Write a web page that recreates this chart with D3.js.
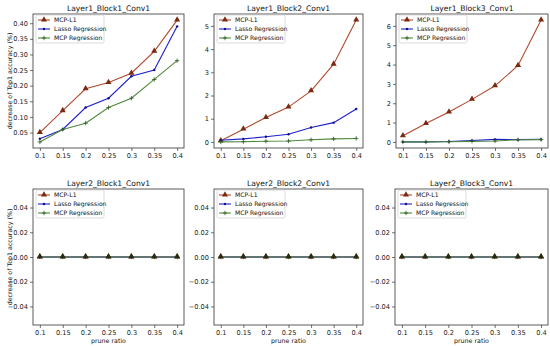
<!DOCTYPE html>
<html>
<head>
<meta charset="utf-8">
<script src="https://cdn.jsdelivr.net/npm/d3@7"></script>
<style>
  body { margin: 0; background: #fff; }
  svg { display: block; }
  text { font-family: "DejaVu Sans", sans-serif; }
</style>
</head>
<body>
<div id="graph-container"></div>
<script>
const pruneRatios = [0.1, 0.15, 0.2, 0.25, 0.3, 0.35, 0.4];
const xTickLabels = ['0.1', '0.15', '0.2', '0.25', '0.3', '0.35', '0.4'];
const seriesNames = ['MCP-L1', 'Lasso Regression', 'MCP Regression'];
const panelTitles = ['Layer1_Block1_Conv1', 'Layer1_Block2_Conv1', 'Layer1_Block3_Conv1',
                     'Layer2_Block1_Conv1', 'Layer2_Block2_Conv1', 'Layer2_Block3_Conv1'];

// values per panel: [MCP-L1, Lasso, MCP Regression]
const l1b1MCPL1 = [0.05, 0.12, 0.19, 0.21, 0.24, 0.31, 0.41];
const l1b1Lasso = [0.03, 0.06, 0.13, 0.16, 0.23, 0.25, 0.39];
const l1b1MCPReg = [0.02, 0.06, 0.08, 0.13, 0.16, 0.22, 0.28];

const l1b2MCPL1 = [0.05, 0.55, 1.05, 1.5, 2.2, 3.35, 5.25];
const l1b2Lasso = [0.07, 0.13, 0.22, 0.33, 0.62, 0.83, 1.42];
const l1b2MCPReg = [0.0, 0.01, 0.03, 0.04, 0.09, 0.13, 0.15];

const l1b3MCPL1 = [0.32, 0.95, 1.55, 2.2, 2.9, 3.95, 6.3];
const l1b3Lasso = [0.0, 0.0, 0.02, 0.07, 0.13, 0.12, 0.13];
const l1b3MCPReg = [0.0, 0.0, 0.01, 0.03, 0.05, 0.11, 0.12];

const zeros = [0, 0, 0, 0, 0, 0, 0];

const yTicksL1B1 = [0.05, 0.10, 0.15, 0.20, 0.25, 0.30, 0.35, 0.40];
const yTicksL1B2 = [0, 1, 2, 3, 4, 5];
const yTicksL1B3 = [0, 1, 2, 3, 4, 5, 6];
const yTicksL2 = [-0.04, -0.02, 0.00, 0.02, 0.04];

const main = () => {
  const width = 550;
  const height = 346;
  const colors = ['#b04a2c', '#1f1fd0', '#4f8a3a'];
  const markerColors = ['#7a2a10', '#10107a', '#2a5a20'];
  const minusFmt = d => (d < 0 ? '\u2212' : '') + Math.abs(d).toFixed(2);
  const TICK_FONT = 6.6;
  const TITLE_FONT = 7.6;
  const LEGEND_FONT = 6.1;
  const LABEL_FONT = 6.3;

  const panels = [
    { title: panelTitles[0], series: [l1b1MCPL1, l1b1Lasso, l1b1MCPReg], ticks: yTicksL1B1, fmt: d3.format('.2f'), yLabel: true, xLabel: false },
    { title: panelTitles[1], series: [l1b2MCPL1, l1b2Lasso, l1b2MCPReg], ticks: yTicksL1B2, fmt: d3.format('d'), yLabel: false, xLabel: false },
    { title: panelTitles[2], series: [l1b3MCPL1, l1b3Lasso, l1b3MCPReg], ticks: yTicksL1B3, fmt: d3.format('d'), yLabel: false, xLabel: false },
    { title: panelTitles[3], series: [zeros, zeros, zeros], ticks: yTicksL2, fmt: minusFmt, yLabel: true, xLabel: true, flat: true },
    { title: panelTitles[4], series: [zeros, zeros, zeros], ticks: yTicksL2, fmt: minusFmt, yLabel: false, xLabel: true, flat: true },
    { title: panelTitles[5], series: [zeros, zeros, zeros], ticks: yTicksL2, fmt: minusFmt, yLabel: false, xLabel: true, flat: true }
  ];

  const boxes = [
    { x: 33, y: 14, w: 151, h: 134 },
    { x: 214, y: 14, w: 149, h: 134 },
    { x: 396, y: 14, w: 152, h: 134 },
    { x: 33, y: 189, w: 151, h: 136 },
    { x: 214, y: 189, w: 149, h: 136 },
    { x: 395, y: 189, w: 153, h: 136 }
  ];

  const svg = d3.select('#graph-container').append('svg')
    .attr('width', width).attr('height', height)
    .attr('style', 'background:white');

  panels.forEach((p, i) => {
    const b = boxes[i];
    const g = svg.append('g').attr('transform', `translate(${b.x},${b.y})`);

    // matplotlib style 5% margins
    const xPad = 0.3 * 0.05;
    const xScale = d3.scaleLinear().domain([0.1 - xPad, 0.4 + xPad]).range([0, b.w]);
    let yMin, yMax;
    if (p.flat) {
      yMin = -0.055; yMax = 0.055;
    } else {
      const all = p.series.flat();
      const lo = d3.min(all), hi = d3.max(all);
      const pad = (hi - lo) * 0.05;
      yMin = lo - pad; yMax = hi + pad;
    }
    const yScale = d3.scaleLinear().domain([yMin, yMax]).range([b.h, 0]);

    const xAxis = g.append('g').attr('transform', `translate(0,${b.h})`)
      .call(d3.axisBottom(xScale).tickValues(pruneRatios).tickFormat((d, k) => xTickLabels[k]).tickSize(3).tickPadding(2.5));
    const yAxis = g.append('g')
      .call(d3.axisLeft(yScale).tickValues(p.ticks).tickFormat(p.fmt).tickSize(3).tickPadding(2));
    [xAxis, yAxis].forEach(a => {
      a.select('.domain').remove();
      a.selectAll('line').attr('stroke', '#333').attr('stroke-width', 0.7);
      a.selectAll('text').attr('font-size', TICK_FONT).attr('fill', '#222').attr('font-family', 'DejaVu Sans');
    });

    const line = d3.line().x((d, k) => xScale(pruneRatios[k])).y(d => yScale(d));

    p.series.forEach((s, si) => {
      g.append('path').datum(s)
        .attr('d', line).attr('fill', 'none')
        .attr('stroke', colors[si]).attr('stroke-width', 1.1);
      const m = g.append('g');
      s.forEach((v, k) => {
        const cx = xScale(pruneRatios[k]), cy = yScale(v);
        if (si === 0) {
          m.append('path').attr('d', d3.symbol(d3.symbolTriangle, 16)())
            .attr('transform', `translate(${cx},${cy - 0.3})`)
            .attr('fill', markerColors[0]);
        } else if (si === 1) {
          m.append('circle').attr('cx', cx).attr('cy', cy).attr('r', 1.2).attr('fill', markerColors[1]);
        } else {
          m.append('path').attr('d', `M${cx - 2.2},${cy}H${cx + 2.2}M${cx},${cy - 2.2}V${cy + 2.2}`)
            .attr('stroke', markerColors[2]).attr('stroke-width', 0.8);
        }
      });
    });

    // flat panels: the triangles show on top in the reference
    if (p.flat) {
      const m = g.append('g');
      p.series[0].forEach((v, k) => {
        m.append('path').attr('d', d3.symbol(d3.symbolTriangle, 16)())
          .attr('transform', `translate(${xScale(pruneRatios[k])},${yScale(v) - 0.5})`)
          .attr('fill', '#2a2a10');
      });
    }

    // frame
    g.append('rect').attr('width', b.w).attr('height', b.h)
      .attr('fill', 'none').attr('stroke', '#333').attr('stroke-width', 0.8);

    g.append('text').attr('x', b.w / 2).attr('y', -3.5)
      .attr('text-anchor', 'middle').attr('font-size', TITLE_FONT).attr('fill', '#111')
      .text(p.title);

    if (p.yLabel) {
      g.append('text')
        .attr('transform', `translate(${-21.5},${b.h / 2}) rotate(-90)`)
        .attr('text-anchor', 'middle').attr('font-size', LABEL_FONT).attr('fill', '#111')
        .text('decrease of Top1 accuracy (%)');
    }
    if (p.xLabel) {
      g.append('text').attr('x', b.w / 2).attr('y', b.h + 17.5)
        .attr('text-anchor', 'middle').attr('font-size', LABEL_FONT).attr('fill', '#111')
        .text('prune ratio');
    }

    // legend
    const lg = g.append('g').attr('transform', 'translate(3,1)');
    lg.append('rect').attr('width', 68).attr('height', 28).attr('rx', 1.5)
      .attr('fill', 'white').attr('fill-opacity', 0.85)
      .attr('stroke', '#ccc').attr('stroke-width', 0.7);
    seriesNames.forEach((name, si) => {
      const ly = 5 + si * 9;
      lg.append('line').attr('x1', 2).attr('x2', 14).attr('y1', ly).attr('y2', ly)
        .attr('stroke', colors[si]).attr('stroke-width', 1.1);
      if (si === 0) {
        lg.append('path').attr('d', d3.symbol(d3.symbolTriangle, 16)())
          .attr('transform', `translate(8,${ly - 0.3})`).attr('fill', markerColors[0]);
      } else if (si === 1) {
        lg.append('circle').attr('cx', 8).attr('cy', ly).attr('r', 1.2).attr('fill', markerColors[1]);
      } else {
        lg.append('path').attr('d', `M5.8,${ly}H10.2M8,${ly - 2.2}V${ly + 2.2}`)
          .attr('stroke', markerColors[2]).attr('stroke-width', 0.8);
      }
      lg.append('text').attr('x', 18).attr('y', ly).attr('dy', '0.35em')
        .attr('font-size', LEGEND_FONT).attr('fill', '#111').text(name);
    });
  });
};

main();
</script>
</body>
</html>
